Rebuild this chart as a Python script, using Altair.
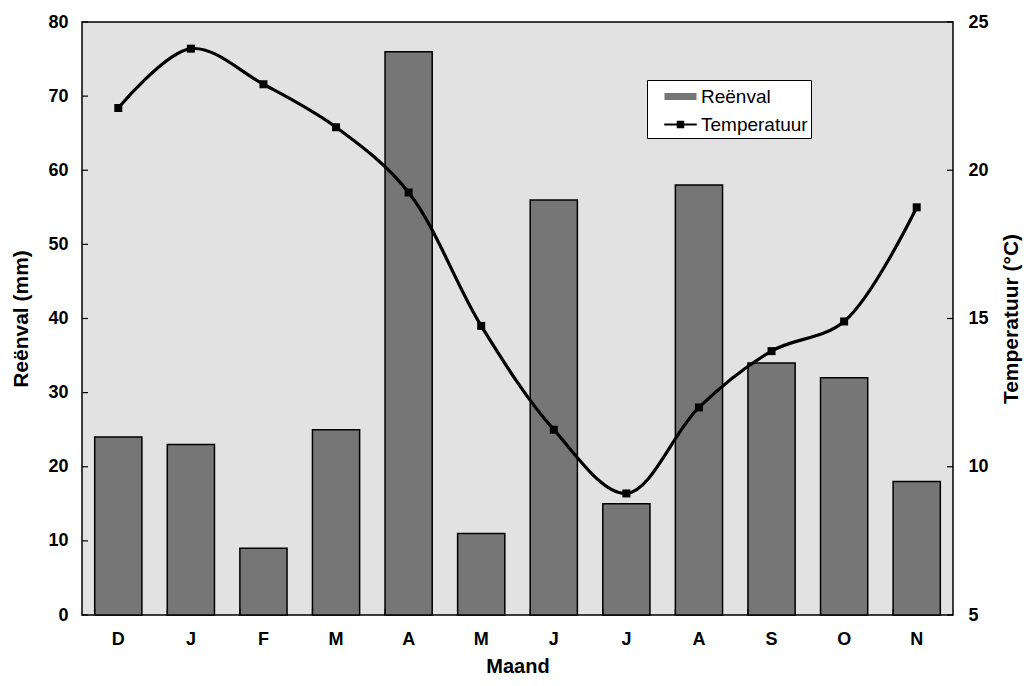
import altair as alt
import pandas as pd

months = ["D", "J", "F", "M", "A", "M", "J", "J", "A", "S", "O", "N"]
rain = [24, 23, 9, 25, 76, 11, 56, 15, 58, 34, 32, 18]
temp = [22.1, 24.1, 22.9, 21.45, 19.25, 14.75, 11.25, 9.1, 12.0, 13.9, 14.9, 18.75]
rain_ticks = [0, 10, 20, 30, 40, 50, 60, 70, 80]
temp_ticks = [5, 10, 15, 20, 25]
series = ["Reënval", "Temperatuur"]

BAR_GRAY = "#767676"
keys = [f"{i:02d}-{m}" for i, m in enumerate(months)]
df = pd.DataFrame({"key": keys, "rain": rain, "temp": temp})
ticks_df = pd.DataFrame({"rain": rain_ticks})
ttick_df = pd.DataFrame({"temp": temp_ticks})
xticks_df = pd.DataFrame({"key": keys})
legend_df = pd.DataFrame({"series": series})

FONT = "Liberation Sans"
W, H = 871, 593

xaxis = alt.Axis(title="Maand", labelExpr="substring(datum.label, 3)", labelAngle=0,
                 ticks=False, domain=False, labelPadding=15, titlePadding=8,
                 labelFont=FONT, labelFontSize=18, labelFontWeight="bold",
                 titleFont=FONT, titleFontSize=20, titleFontWeight="bold",
                 titleColor="black", labelColor="black")
xscale = alt.Scale(paddingInner=0.35, paddingOuter=0.175)

rain_axis = alt.Axis(title="Reënval (mm)", values=rain_ticks, ticks=False, domain=False,
                     grid=False, labelPadding=14, titlePadding=16,
                     labelFont=FONT, labelFontSize=18, labelFontWeight="bold",
                     titleFont=FONT, titleFontSize=21, titleFontWeight="bold",
                     titleColor="black", labelColor="black")
rain_scale = alt.Scale(domain=[0, 80], nice=False)

temp_axis = alt.Axis(title="Temperatuur (°C)", orient="right", values=temp_ticks,
                     ticks=False, domain=False, grid=False, labelPadding=15, titlePadding=33,
                     titleAngle=270, titleBaseline="bottom",
                     labelFont=FONT, labelFontSize=18, labelFontWeight="bold",
                     titleFont=FONT, titleFontSize=21, titleFontWeight="bold",
                     titleColor="black", labelColor="black")
temp_scale = alt.Scale(domain=[5, 25], nice=False)

bars = alt.Chart(df).mark_bar(stroke="black", strokeWidth=1.5, fill=BAR_GRAY).encode(
    x=alt.X("key:N", sort=keys, scale=xscale, axis=xaxis),
    y=alt.Y("rain:Q", scale=rain_scale, axis=rain_axis),
)

ytick = alt.Chart(ticks_df).mark_rule(color="black", strokeWidth=1.2).encode(
    y=alt.Y("rain:Q", scale=rain_scale, axis=rain_axis),
    x=alt.value(0), x2=alt.value(6))

xtick = alt.Chart(xticks_df).mark_rule(color="black", strokeWidth=1.2).encode(
    x=alt.X("key:N", sort=keys, scale=xscale, axis=xaxis, bandPosition=0),
    y=alt.value(H - 6), y2=alt.value(H))

RECT_PATH = "M-1.28,-0.28H1.28V0.28H-1.28Z"
LINE_PATH = "M-1.3,-0.08H1.3V0.08H-1.3ZM-0.3,-0.3H0.3V0.3H-0.3Z"
leg = alt.Legend(title=None, orient="none", legendX=565, legendY=58,
                 strokeColor="black", fillColor="white", padding=3,
                 labelFont=FONT, labelFontSize=19, labelColor="black",
                 rowPadding=4, symbolSize=625, symbolOffset=17, labelOffset=7,
                 symbolStrokeColor="black", symbolStrokeWidth=1.3, symbolOpacity=1)
legend_layer = alt.Chart(legend_df).mark_point(
    filled=True, stroke="black", strokeWidth=1.3, opacity=1, clip=True).encode(
    x=alt.value(10), y=alt.value(-3000),
    color=alt.Color("series:N", scale=alt.Scale(domain=series, range=[BAR_GRAY, "#000000"]), legend=leg),
    shape=alt.Shape("series:N", scale=alt.Scale(domain=series, range=[RECT_PATH, LINE_PATH]), legend=leg),
)

left = alt.layer(bars, ytick, xtick, legend_layer)

line = alt.Chart(df).mark_line(strokeWidth=3.2, interpolate="catmull-rom", color="black").encode(
    x=alt.X("key:N", sort=keys, scale=xscale, axis=xaxis),
    y=alt.Y("temp:Q", scale=temp_scale, axis=temp_axis),
)
points = alt.Chart(df).mark_square(size=64, opacity=1, color="black").encode(
    x=alt.X("key:N", sort=keys, scale=xscale, axis=xaxis),
    y=alt.Y("temp:Q", scale=temp_scale, axis=temp_axis),
)
rtick = alt.Chart(ttick_df).mark_rule(color="black", strokeWidth=1.2).encode(
    y=alt.Y("temp:Q", scale=temp_scale, axis=temp_axis),
    x=alt.value(W - 6), x2=alt.value(W))

right = alt.layer(line, points, rtick)

chart = alt.layer(left, right).resolve_scale(y="independent").properties(
    width=W, height=H,
    autosize=alt.AutoSizeParams(type="none"),
    padding={"left": 74, "top": 14, "right": 71, "bottom": 63},
).configure_view(
    fill="#e2e2e2", stroke="black", strokeWidth=1.5
)

chart.save("out.html", embed_options={"renderer": "svg", "actions": False})
